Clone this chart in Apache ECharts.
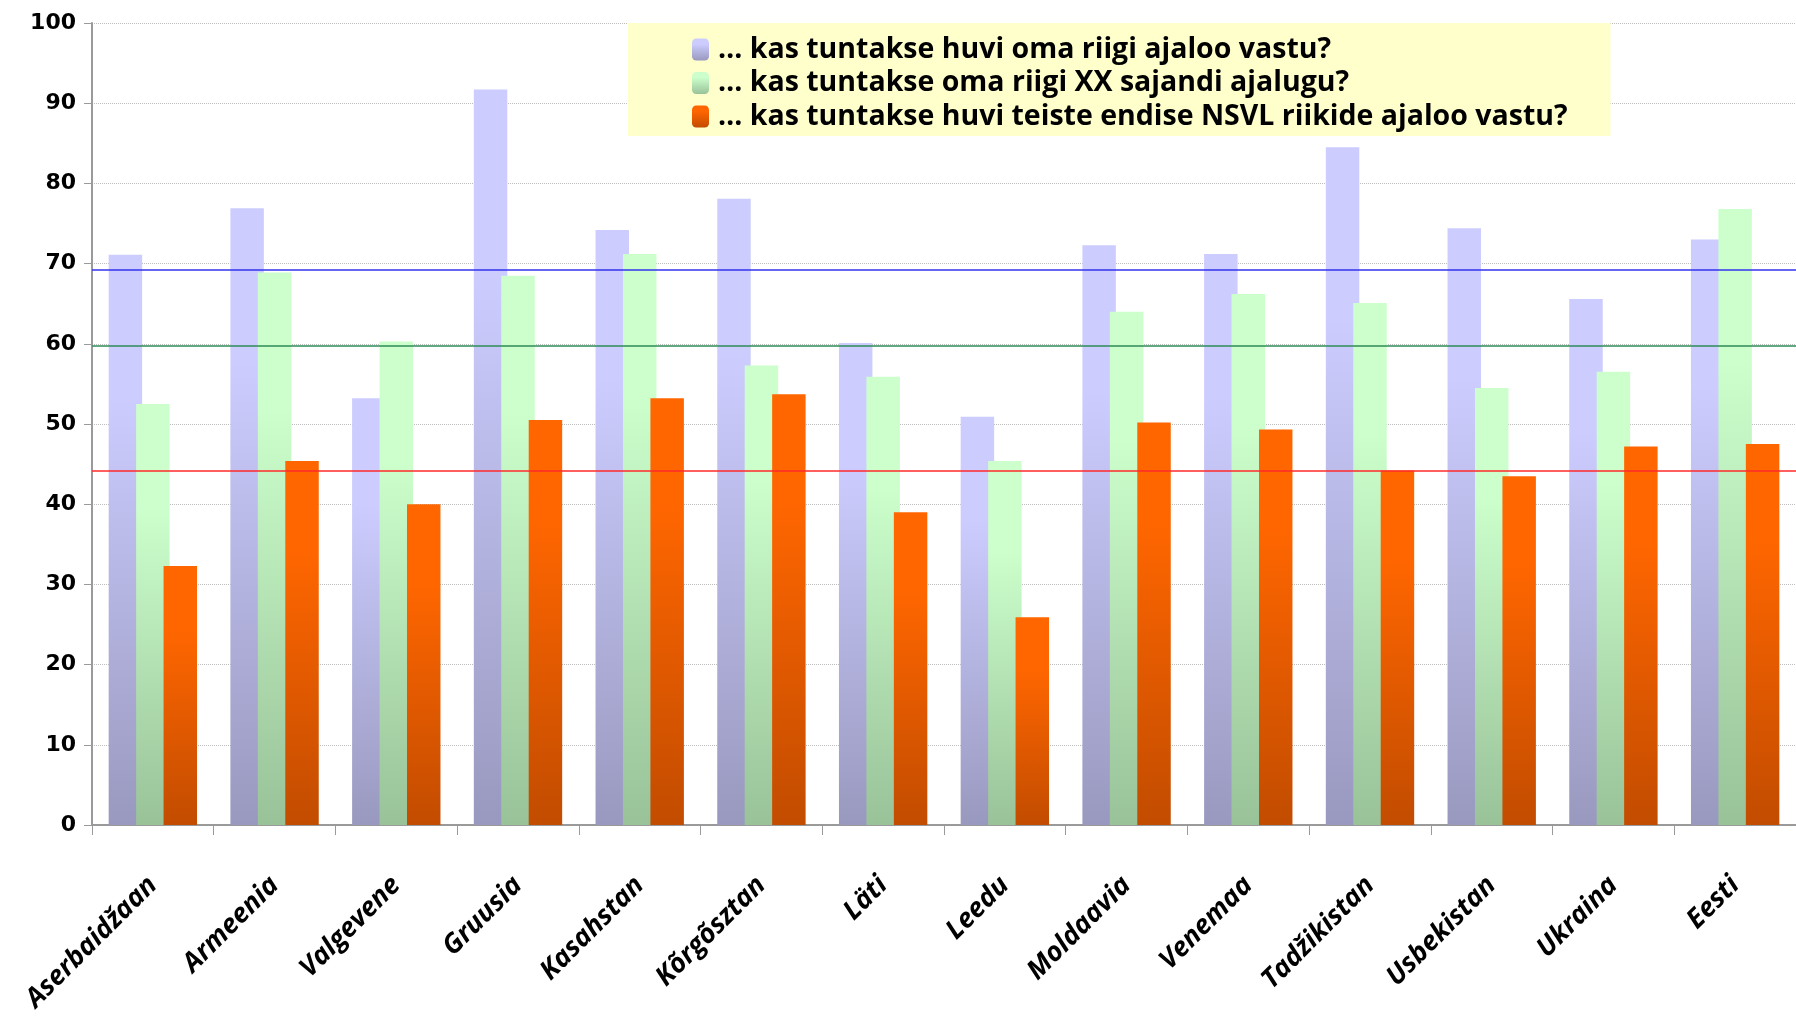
<!DOCTYPE html>
<html>
<head>
<meta charset="utf-8">
<script src="https://cdn.jsdelivr.net/npm/echarts@6/dist/echarts.min.js"></script>
<style>
html,body{margin:0;padding:0;background:#fff;}
#chart{width:1796px;height:1025px;}
</style>
</head>
<body>
<div id="chart"></div>
<script>
const categories = ['Aserbaidžaan','Armeenia','Valgevene','Gruusia','Kasahstan','Kõrgõsztan','Läti','Leedu','Moldaavia','Venemaa','Tadžikistan','Usbekistan','Ukraina','Eesti'];
const seriesNames = ['… kas tuntakse huvi oma riigi ajaloo vastu?','… kas tuntakse oma riigi XX sajandi ajalugu?','… kas tuntakse huvi teiste endise NSVL riikide ajaloo vastu?'];
const ownHistory = [71.1,76.9,53.2,91.7,74.2,78.1,60.1,50.9,72.3,71.2,84.5,74.4,65.6,73.0];
const xxCentury = [52.5,68.9,60.3,68.5,71.2,57.3,55.9,45.4,64.0,66.2,65.1,54.5,56.5,76.8];
const otherUSSR = [32.3,45.4,40.0,50.5,53.2,53.7,39.0,25.9,50.2,49.3,44.2,43.5,47.2,47.5];
const averages = [69.2,59.8,44.2];
const yTicks = [0,10,20,30,40,50,60,70,80,90,100];

function grad(top, bottom){
  return new echarts.graphic.LinearGradient(0,0,0,1,[
    {offset:0,color:top},{offset:0.25,color:top},{offset:1,color:bottom}
  ]);
}
const palettes = [
  ['#CCCCFF','#9999BF'],
  ['#CCFFCC','#99C299'],
  ['#FF6600','#C24C00']
];
const lineColors = ['#3333EE','#2E8B57','#FF2A2A'];
const dataSets = [ownHistory, xxCentury, otherUSSR];

const chart = echarts.init(document.getElementById('chart'));
const series = dataSets.map((d,i)=>({
  name: seriesNames[i],
  type:'bar',
  data:d,
  barWidth:'27.5%',
  barGap:'-18%',
  itemStyle:{color:grad(palettes[i][0],palettes[i][1])},
  markLine:{
    silent:true,
    symbol:'none',
    label:{show:false},
    lineStyle:{color:lineColors[i],width:1.5,type:'solid'},
    data:[{yAxis:averages[i]}]
  }
}));

chart.setOption({
  animation:false,
  backgroundColor:'#ffffff',
  grid:{left:92,right:0,top:23,bottom:200,containLabel:false},
  legend:{
    orient:'vertical',
    left:628,
    top:23,
    backgroundColor:'#FFFFCC',
    padding:[12,43,5,64],
    itemWidth:17,
    itemHeight:22,
    itemGap:4.5,
    textStyle:{fontFamily:'Open Sans',fontWeight:'bold',fontSize:28.5,color:'#000',lineHeight:26,padding:[0,0,0,4]},
    data:seriesNames
  },
  xAxis:{
    type:'category',
    data:categories,
    axisLine:{lineStyle:{color:'#9a9a9a',width:2}},
    axisTick:{show:true,length:10,lineStyle:{color:'#9a9a9a'}},
    axisLabel:{rotate:45,margin:56,fontFamily:'Open Sans',fontWeight:'bold',fontStyle:'italic',fontSize:27,color:'#000'}
  },
  yAxis:{
    type:'value',
    min:0,max:100,interval:10,
    axisLine:{show:true,lineStyle:{color:'#9a9a9a',width:2}},
    axisTick:{show:true,length:8,lineStyle:{color:'#9a9a9a'}},
    splitLine:{show:true,lineStyle:{color:'#bdbdbd',type:'dotted',width:1}},
    axisLabel:{margin:16,fontFamily:'DejaVu Sans',fontWeight:'bold',fontSize:22,color:'#000',
      formatter:v=>yTicks.indexOf(v)>=0?String(v):''}
  },
  series:series
});
</script>
</body>
</html>
